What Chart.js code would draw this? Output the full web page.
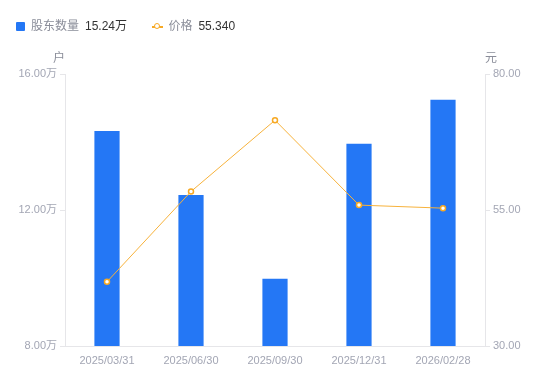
<!DOCTYPE html>
<html>
<head>
<meta charset="utf-8">
<script src="https://cdn.jsdelivr.net/npm/chart.js@4/dist/chart.umd.min.js"></script>
<style>
  html, body { margin: 0; padding: 0; background: #fff; }
  #wrap { position: relative; width: 550px; height: 381px; }
  #chart { position: absolute; left: 0; top: 0; }
  #legend { position: absolute; left: 16px; top: 16px; font-family: "Liberation Sans", "Noto Sans CJK SC", sans-serif; font-size: 12px; white-space: nowrap; }
  .item { display: inline-block; margin-right: 22px; }
  .name { color: #8a8d99; }
  .val { color: #333; margin-left: 6px; }
  .sq { display: inline-block; width: 9px; height: 9px; background: #2477f5; border-radius: 1px; margin-right: 6px; vertical-align: -1px; }
  .ln { display: inline-block; position: relative; width: 11px; height: 9px; margin-right: 5px; vertical-align: -1px; }
  .ln:before { content: ""; position: absolute; left: 0; right: 0; top: 4px; height: 2px; background: #f7a924; }
  .ln:after { content: ""; position: absolute; left: 2px; top: 1px; width: 4px; height: 4px; border: 1.5px solid #f7a924; border-radius: 50%; background: #fff; }
</style>
</head>
<body>
<div id="wrap">
  <canvas id="chart" width="550" height="381"></canvas>
  <div id="legend">
    <span class="item"><span class="sq"></span><span class="name">股东数量</span><span class="val">15.24万</span></span>
    <span class="item"><span class="ln"></span><span class="name">价格</span><span class="val">55.340</span></span>
  </div>
</div>
<script>
// 数据
var dates = ['2025/03/31', '2025/06/30', '2025/09/30', '2025/12/31', '2026/02/28'];
var holders = [14.32, 12.44, 9.98, 13.95, 15.24];   // 万户
var prices = [41.8, 58.4, 71.5, 55.9, 55.34];       // 元
var holderTicks = [8, 12, 16];
var priceTicks = [30, 55, 80];

var tickColor = '#a3a6b4';
var lineColor = '#e6e6e9';

// 轴单位 户 / 元
var unitPlugin = {
    id: 'units',
    afterDraw: function(chart) {
        var c = chart.ctx;
        var area = chart.chartArea;
        c.save();
        c.font = '12px "Noto Sans CJK SC", sans-serif';
        c.fillStyle = '#8a8d99';
        c.textBaseline = 'middle';
        c.textAlign = 'center';
        c.fillText('户', area.left - 6, 57);
        c.fillText('元', area.right + 6, 57);
        c.restore();
    }
};

var ctx = document.getElementById('chart').getContext('2d');
var chart = new Chart(ctx, {
    type: 'bar',
    data: {
        labels: dates,
        datasets: [{
            type: 'line',
            label: '价格',
            data: prices,
            yAxisID: 'y1',
            borderColor: '#f7b23b',
            borderWidth: 1,
            pointRadius: 2.5,
            pointBorderWidth: 1.5,
            pointBackgroundColor: '#fff',
            pointBorderColor: '#f7a924',
            tension: 0,
            order: 0
        }, {
            type: 'bar',
            label: '股东数量',
            data: holders,
            yAxisID: 'y',
            backgroundColor: '#2477f5',
            categoryPercentage: 1,
            barPercentage: 0.3,
            order: 1
        }]
    },
    options: {
        responsive: false,
        animation: false,
        layout: { padding: { top: 74, left: 0, right: 0, bottom: 0 } },
        plugins: {
            legend: { display: false },
            tooltip: { enabled: false }
        },
        scales: {
            x: {
                grid: { display: false, drawTicks: false },
                border: { color: lineColor },
                ticks: {
                    color: tickColor,
                    font: { family: '"Liberation Sans", sans-serif', size: 11 },
                    padding: 8,
                    maxRotation: 0
                },
                afterFit: function(s) { s.height = 35; }
            },
            y: {
                position: 'left',
                min: 8,
                max: 16,
                afterBuildTicks: function(s) {
                    s.ticks = holderTicks.map(function(v) { return { value: v }; });
                },
                grid: { drawOnChartArea: false, tickLength: 5, color: lineColor },
                border: { color: lineColor },
                ticks: {
                    color: tickColor,
                    font: { family: '"Liberation Sans", "Noto Sans CJK SC", sans-serif', size: 11 },
                    padding: 3,
                    callback: function(v) { return v.toFixed(2) + '万'; }
                },
                afterFit: function(s) { s.width = 65; }
            },
            y1: {
                position: 'right',
                min: 30,
                max: 80,
                afterBuildTicks: function(s) {
                    s.ticks = priceTicks.map(function(v) { return { value: v }; });
                },
                grid: { drawOnChartArea: false, tickLength: 5, color: lineColor },
                border: { color: lineColor },
                ticks: {
                    color: tickColor,
                    font: { family: '"Liberation Sans", sans-serif', size: 11 },
                    padding: 3,
                    callback: function(v) { return v.toFixed(2); }
                },
                afterFit: function(s) { s.width = 65; }
            }
        }
    },
    plugins: [unitPlugin]
});
</script>
</body>
</html>
